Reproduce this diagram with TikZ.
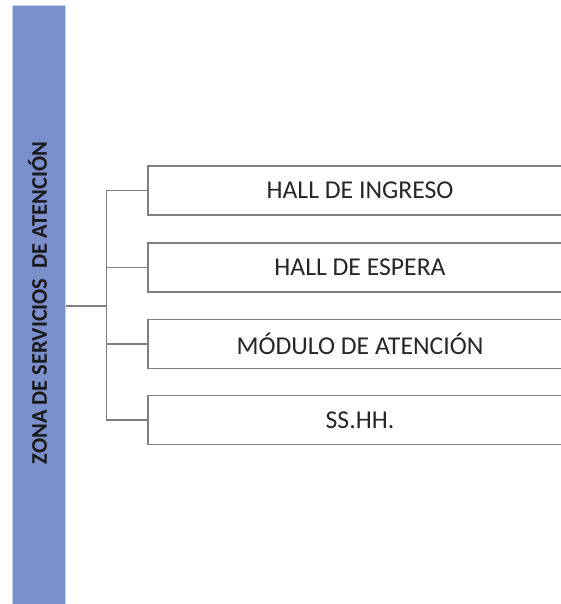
\documentclass[tikz,border=0pt]{standalone}
\usepackage{fontspec}
\setmainfont{Carlito}
\definecolor{barblue}{HTML}{7A8FCB}
\definecolor{baredge}{HTML}{C5D2F2}
\definecolor{linegray}{HTML}{7F7F7F}
\begin{document}
\begin{tikzpicture}[x=1pt,y=-1pt,
  itembox/.style={draw=linegray,line width=1.3pt,fill=white,minimum width=424pt,minimum height=49pt,inner sep=0pt,
    font=\fontsize{25.7}{30}\selectfont,text=black!85},
  conn/.style={draw=linegray,line width=1.3pt}]
\clip (0,0) rectangle (561,604);
\fill[white] (0,0) rectangle (561,604);
\node[fill=barblue,draw=baredge,line width=1pt,minimum width=53pt,minimum height=599pt,inner sep=0pt] (bar) at (38.5,305.5) {};
\node[rotate=90,font=\bfseries\fontsize{22.4}{27}\selectfont,text=black!90] (lbl) at (37.5,303) {ZONA DE SERVICIOS \ DE ATENCIÓN};
\node[itembox] (b1) at (360,190.5) {HALL DE INGRESO};
\node[itembox] (b2) at (360,267.5) {HALL DE ESPERA};
\node[itembox] (b3) at (360,344) {MÓDULO DE ATENCIÓN};
\node[itembox] (b4) at (360,420) {SS.HH.};
\coordinate (j) at (106.5,306);
\draw[conn] (bar.east |- j) -- (j);
\draw[conn] (j) |- (b1.west);
\draw[conn] (j) |- (b2.west);
\draw[conn] (j) |- (b3.west);
\draw[conn] (j) |- (b4.west);
\end{tikzpicture}
\end{document}
